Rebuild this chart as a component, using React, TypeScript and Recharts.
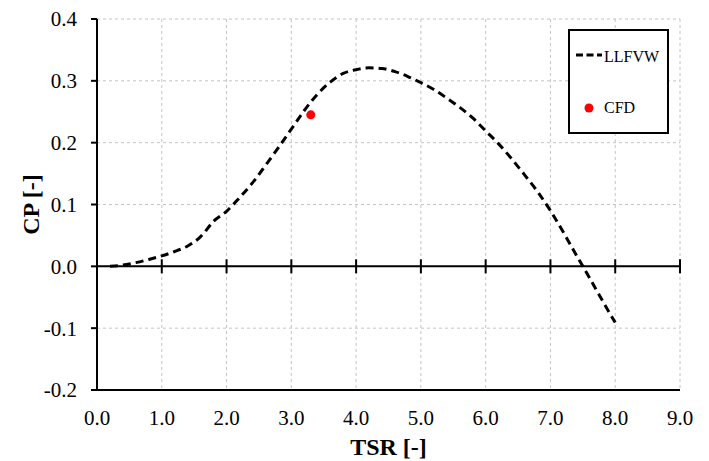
import {
  CartesianGrid,
  ComposedChart,
  Legend,
  Line,
  ReferenceDot,
  ReferenceLine,
  Scatter,
  XAxis,
  YAxis,
} from 'recharts'

const tsr = [
  0.2, 0.4, 0.6, 0.8, 1.0, 1.2, 1.4, 1.6, 1.8, 2.0, 2.2, 2.4, 2.6, 2.8, 3.0, 3.2, 3.4, 3.6, 3.8, 4.0,
  4.2, 4.4, 4.6, 4.8, 5.0, 5.2, 5.4, 5.6, 5.8, 6.0, 6.2, 6.4, 6.6, 6.8, 7.0, 7.2, 7.4, 7.6, 7.8, 8.0,
]
const llfvw = [
  0.0, 0.002, 0.006, 0.011, 0.017, 0.024, 0.033, 0.048, 0.073, 0.089, 0.111, 0.135, 0.163, 0.192,
  0.222, 0.252, 0.278, 0.298, 0.312, 0.318, 0.321, 0.32, 0.315, 0.307, 0.297, 0.286, 0.272, 0.257,
  0.24, 0.219, 0.198, 0.174, 0.148, 0.121, 0.09, 0.055, 0.018, -0.018, -0.055, -0.091,
]
const cfdTsr = [3.3]
const cfdCp = [0.245]

const xTicks = [0, 1, 2, 3, 4, 5, 6, 7, 8, 9]
const yTicks = [-0.2, -0.1, 0, 0.1, 0.2, 0.3, 0.4]

const lineData = tsr.map((t, i) => ({ tsr: t, cp: llfvw[i] }))
const cfdData = cfdTsr.map((t, i) => ({ tsr: t, cp: cfdCp[i] }))

const font = '"Liberation Serif", "Times New Roman", serif'

function LegendBox() {
  return (
    <div
      style={{
        width: 101,
        height: 105,
        border: '2px solid #000',
        boxSizing: 'border-box',
        background: '#fff',
      }}
    >
      <svg width={97} height={101} style={{ display: 'block' }}>
        <line x1={6} y1={24} x2={32} y2={24} stroke='#000' strokeWidth={3} strokeDasharray='7 3.5' />
        <text x={34} y={31} fontSize={16} fill='#000'>
          LLFVW
        </text>
        <circle cx={19} cy={77} r={4.5} fill='#ff0000' />
        <text x={34} y={82} fontSize={16} fill='#000'>
          CFD
        </text>
      </svg>
    </div>
  )
}

const ZeroTick = (props: any) => (
  <line x1={props.cx} y1={props.cy - 7} x2={props.cx} y2={props.cy + 7} stroke='#000' strokeWidth={2} />
)

export default function App() {
  return (
    <div>
      <style>{`svg text { font-family: "Liberation Serif", "Times New Roman", serif; }`}</style>
      <ComposedChart
        width={701}
        height={453}
        margin={{ top: 11, right: 29, bottom: 0, left: 0 }}
        style={{ fontFamily: font }}
      >
        <CartesianGrid stroke='#c4c4c4' strokeDasharray='3 3' />
        <XAxis
          dataKey='tsr'
          type='number'
          domain={[0, 9]}
          ticks={xTicks}
          tickFormatter={(v: number) => v.toFixed(1)}
          height={71}
          tickLine={false}
          tickSize={6}
          tickMargin={14}
          axisLine={{ stroke: '#000', strokeWidth: 2 }}
          tick={{ fill: '#000', fontSize: 21 }}
          interval={0}
          label={{
            value: 'TSR [-]',
            position: 'insideBottom',
            offset: 6,
            fill: '#000',
            fontSize: 24,
            fontWeight: 'bold',
          }}
        />
        <XAxis
          xAxisId='top'
          orientation='top'
          type='number'
          domain={[0, 9]}
          height={0}
          tick={false}
          tickLine={false}
          axisLine={{ stroke: '#000', strokeWidth: 2 }}
        />
        <YAxis
          type='number'
          domain={[-0.2, 0.4]}
          ticks={yTicks}
          tickFormatter={(v: number) => v.toFixed(1)}
          width={89}
          tickSize={6}
          tickMargin={14}
          stroke='#000'
          strokeWidth={2}
          tick={{ fill: '#000', fontSize: 21 }}
          interval={0}
          label={({ viewBox }: any) => {
            const cy = viewBox.y + viewBox.height / 2
            return (
              <text
                x={31}
                y={cy}
                transform={`rotate(-90, 31, ${cy})`}
                textAnchor='middle'
                fontSize={24}
                fontWeight='bold'
                fill='#000'
              >
                CP [-]
              </text>
            )
          }}
        />
        <YAxis
          yAxisId='right'
          orientation='right'
          type='number'
          domain={[-0.2, 0.4]}
          width={0}
          tick={false}
          tickLine={false}
          axisLine={{ stroke: '#000', strokeWidth: 2 }}
        />
        <ReferenceLine y={0} stroke='#000' strokeWidth={2} />
        {xTicks.map((t) => (
          <ReferenceDot key={t} x={t} y={0} shape={ZeroTick} />
        ))}
        <Line
          data={lineData}
          dataKey='cp'
          type='monotone'
          stroke='#000'
          strokeWidth={3}
          strokeDasharray='8 5'
          dot={false}
          activeDot={false}
          isAnimationActive={false}
          name='LLFVW'
        />
        <Scatter
          data={cfdData}
          dataKey='cp'
          fill='#ff0000'
          shape={(p: any) => <circle cx={p.cx} cy={p.cy} r={4.5} fill='#ff0000' />}
          isAnimationActive={false}
          name='CFD'
        />
        <Legend
          layout='vertical'
          align='center'
          verticalAlign='middle'
          content={() => <LegendBox />}
          wrapperStyle={{ position: 'absolute', left: 560, top: 21, width: 101, height: 105 }}
        />
      </ComposedChart>
    </div>
  )
}
